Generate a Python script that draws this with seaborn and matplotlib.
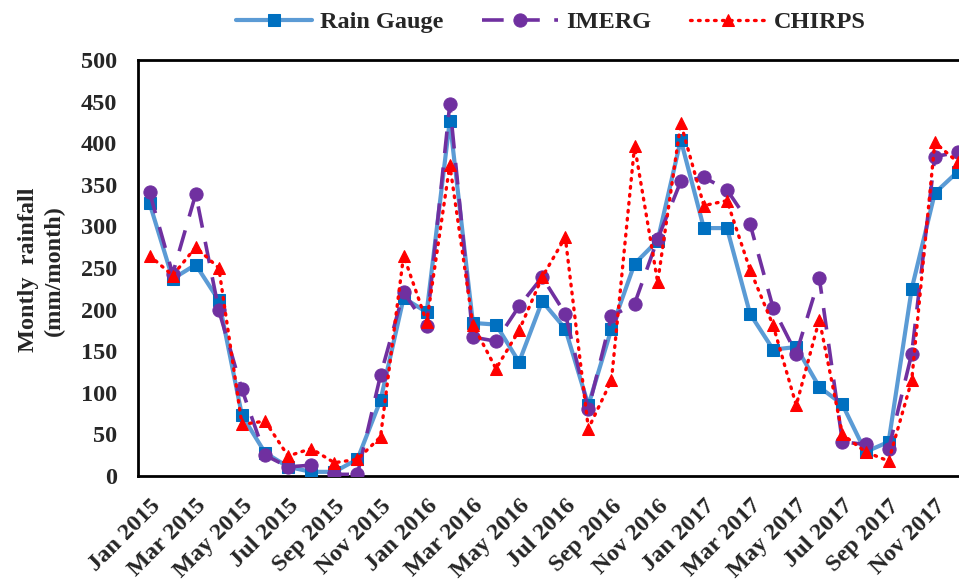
import matplotlib
matplotlib.use("Agg")
import matplotlib.pyplot as plt
import seaborn as sns
import pandas as pd
import numpy as np

months = ["Jan 2015", "Feb 2015", "Mar 2015", "Apr 2015", "May 2015", "Jun 2015",
          "Jul 2015", "Aug 2015", "Sep 2015", "Oct 2015", "Nov 2015", "Dec 2015",
          "Jan 2016", "Feb 2016", "Mar 2016", "Apr 2016", "May 2016", "Jun 2016",
          "Jul 2016", "Aug 2016", "Sep 2016", "Oct 2016", "Nov 2016", "Dec 2016",
          "Jan 2017", "Feb 2017", "Mar 2017", "Apr 2017", "May 2017", "Jun 2017",
          "Jul 2017", "Aug 2017", "Sep 2017", "Oct 2017", "Nov 2017", "Dec 2017"]

rain_gauge = [328, 237, 254, 211, 73, 28, 11, 5, 5, 20, 91, 214,
              197, 427, 184, 182, 137, 210, 177, 85, 177, 255, 283, 404,
              298, 298, 195, 152, 155, 107, 86, 29, 41, 225, 340, 366]
imerg = [341, 243, 339, 199, 104, 25, 11, 13, 2, 2, 121, 221,
         180, 447, 167, 162, 204, 239, 195, 80, 192, 207, 285, 354,
         359, 344, 303, 202, 147, 238, 41, 38, 32, 147, 384, 389]
chirps = [265, 241, 275, 250, 62, 66, 24, 33, 16, 20, 47, 265,
          185, 374, 182, 129, 175, 239, 287, 57, 115, 397, 233, 424,
          325, 331, 248, 181, 85, 188, 50, 29, 18, 115, 401, 377]

df = pd.DataFrame({"idx": np.arange(len(months)), "Rain Gauge": rain_gauge,
                   "IMERG": imerg, "CHIRPS": chirps})

sns.set_style("white")
plt.rcParams["font.family"] = ["Liberation Serif", "DejaVu Serif"]
plt.rcParams["font.weight"] = "bold"

FS = 17.5

fig = plt.figure(figsize=(9.59, 5.81), dpi=100)
ax = fig.add_axes([0.1439, 0.1807, 0.867, 0.716])

sns.lineplot(data=df, x="idx", y="Rain Gauge", ax=ax, color="#5B9BD5", lw=3,
             marker="s", markersize=8, markerfacecolor="#0070C0",
             markeredgecolor="#0070C0", label="Rain Gauge", zorder=3)
sns.lineplot(data=df, x="idx", y="IMERG", ax=ax, color="#7030A0", lw=2.6,
             marker="o", markersize=9.5, markerfacecolor="#7030A0",
             markeredgecolor="#7030A0", label="IMERG", zorder=4)
ax.lines[-1].set_dashes([6, 4])
sns.lineplot(data=df, x="idx", y="CHIRPS", ax=ax, color="#FF0000", lw=2.4,
             marker="^", markersize=8.5, markerfacecolor="#FF0000",
             markeredgecolor="#FF0000", label="CHIRPS", zorder=5)
ax.lines[-1].set_linestyle((0, (0.5, 1.9)))
ax.lines[-1].set_dash_capstyle("round")

ax.set_xlim(-0.5, len(months) - 0.5)
ax.set_ylim(0, 500)
ax.set_yticks(np.arange(0, 501, 50))
ax.set_xticks(np.arange(0, len(months), 2))
ax.set_xticklabels(months[::2], rotation=45, ha="right", rotation_mode="anchor",
                   fontsize=FS, fontweight="bold")
ax.set_xticks(np.arange(-0.5, len(months), 1), minor=True)
ax.tick_params(axis="x", which="major", length=0, pad=14)
ax.tick_params(axis="x", which="minor", direction="in", length=6, width=1.5)
ax.tick_params(axis="y", direction="in", length=6, width=1.5, labelsize=FS, pad=15)
for t in ax.get_yticklabels():
    t.set_fontweight("bold")

for s in ax.spines.values():
    s.set_linewidth(2)
    s.set_color("black")

ax.set_xlabel("")
ax.set_ylabel("Montly  rainfall\n(mm/month)", fontsize=FS, fontweight="bold",
              va="center", linespacing=1.3)
ax.yaxis.set_label_coords(-0.116, 0.495)

leg = ax.legend(loc="center", ncol=3, frameon=False, fontsize=FS, handlelength=3.1,
                columnspacing=1.6, handletextpad=0.35)
leg.set_bbox_to_anchor((0.5746, 0.962), transform=fig.transFigure)
for t in leg.get_texts():
    t.set_fontweight("bold")

fig.savefig("out.png", dpi=100)
